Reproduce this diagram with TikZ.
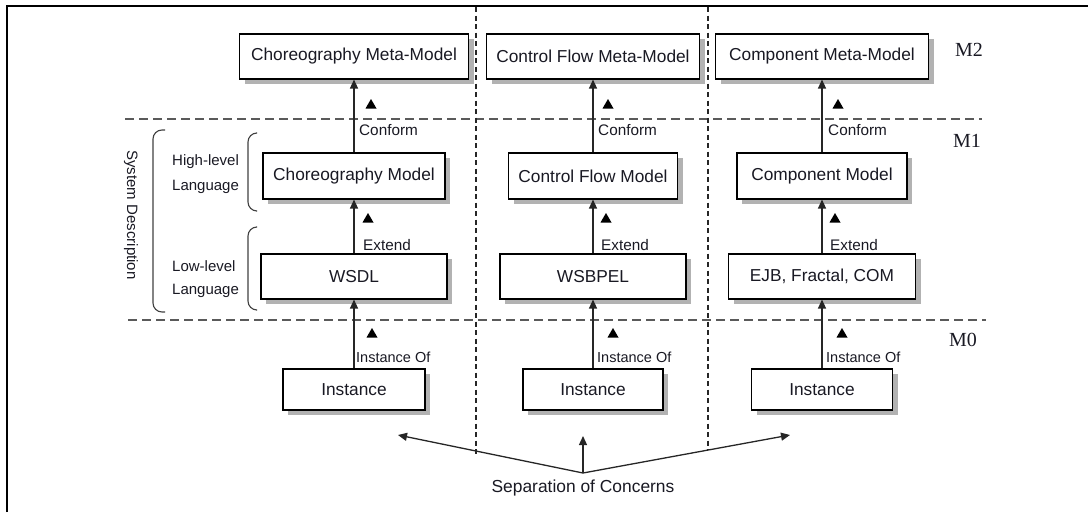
\documentclass[tikz,border=0pt]{standalone}
\usepackage{fontspec}
\setmainfont{Liberation Sans}
\newfontfamily\serifM{Liberation Serif}
\usetikzlibrary{arrows.meta,shadows}
\definecolor{txt}{RGB}{25,25,35}
\definecolor{shd}{RGB}{178,178,178}
\definecolor{dashgray}{RGB}{90,90,90}
\tikzset{
  box/.style={draw=black, line width=1.1pt, fill=white, text=txt, inner sep=0pt,
    minimum height=45pt, font=\fontsize{17.3}{20}\selectfont,
    drop shadow={shadow xshift=5pt, shadow yshift=-5pt, fill=shd, opacity=1}},
  conn/.style={draw=black!85, line width=1.3pt, -{Triangle[length=9pt,width=8pt]}},
  lbl/.style={anchor=west, text=txt, inner sep=0pt, font=\fontsize{15.3}{18}\selectfont},
  lblsmall/.style={anchor=west, text=txt, inner sep=0pt, font=\fontsize{14.5}{17}\selectfont},
  side/.style={anchor=west, text=txt, inner sep=0pt, font=\fontsize{15}{18}\selectfont},
  mlbl/.style={text=txt, inner sep=0pt, font=\serifM\fontsize{20}{22}\selectfont},
  layer/.style={draw=dashgray, line width=1.5pt, dash pattern=on 9pt off 5pt},
  column/.style={draw=black!85, line width=1.3pt, dash pattern=on 5pt off 3.5pt},
  brace/.style={draw=black!75, line width=1.1pt, rounded corners=9pt},
  tri/.style={fill=black}
}
\newcommand{\tmark}[2]{\fill[tri] (#1-5.5,#2+4.5) -- (#1+5.5,#2+4.5) -- (#1,#2-5) -- cycle;}
\begin{document}
\begin{tikzpicture}[x=1pt,y=-1pt]
\useasboundingbox (0,0) rectangle (1088,512);
% frame
\draw[line width=2.5pt] (7,512) -- (7,6) -- (1088,6);
% layer separators
\draw[layer] (125,119) -- (982,119);
\draw[layer] (128,320) -- (986,320);
% column separators
\draw[column] (476,7) -- (476,455);
\draw[column] (708,7) -- (708,450);

% M2 boxes
\node[box, minimum width=229pt] (cmm) at (354,56.5) {Choreography Meta-Model};
\node[box, minimum width=213pt] (fmm) at (593,56.5) {Control Flow Meta-Model};
\node[box, minimum width=213pt] (pmm) at (822,56.5) {Component Meta-Model};
% M1 high-level
\node[box, minimum width=182pt, minimum height=46pt] (cm) at (354,176) {Choreography Model};
\node[box, minimum width=169pt, minimum height=46pt] (fm) at (593,176) {Control Flow Model};
\node[box, minimum width=170pt, minimum height=46pt] (pm) at (822,176) {Component Model};
% M1 low-level
\node[box, minimum width=186pt] (wsdl) at (354,276.5) {WSDL};
\node[box, minimum width=186pt] (bpel) at (593,276.5) {WSBPEL};
\node[box, minimum width=187pt] (ejb) at (822,276.5) {EJB, Fractal, COM};
% M0
\node[box, minimum width=142pt, minimum height=41pt] (i1) at (354,389.5) {Instance};
\node[box, minimum width=140pt, minimum height=41pt] (i2) at (593,389.5) {Instance};
\node[box, minimum width=141pt, minimum height=41pt] (i3) at (822,389.5) {Instance};

% connectors
\draw[conn] (cm.north) -- (cmm.south);
\draw[conn] (fm.north) -- (fmm.south);
\draw[conn] (pm.north) -- (pmm.south);
\draw[conn] (wsdl.north) -- (cm.south);
\draw[conn] (bpel.north) -- (fm.south);
\draw[conn] (ejb.north) -- (pm.south);
\draw[conn] (i1.north) -- (wsdl.south);
\draw[conn] (i2.north) -- (bpel.south);
\draw[conn] (i3.north) -- (ejb.south);

% triangles and labels
\tmark{371}{104}
\tmark{608}{104}
\tmark{838}{104}
\node[lbl] (c1) at (359,130) {Conform};
\node[lbl] (c2) at (598,130) {Conform};
\node[lbl] (c3) at (828,130) {Conform};
\tmark{368}{218}
\tmark{606}{218}
\tmark{835}{218}
\node[lbl] (e1) at (363,245) {Extend};
\node[lbl] (e2) at (601,245) {Extend};
\node[lbl] (e3) at (830,245) {Extend};
\tmark{372}{333}
\tmark{613}{333}
\tmark{842}{333}
\node[lblsmall] (o1) at (356,357) {Instance Of};
\node[lblsmall] (o2) at (597,357) {Instance Of};
\node[lblsmall] (o3) at (826,357) {Instance Of};

% left side
\node[side] (hl1) at (172,162) {High-level};
\node[side] (hl2) at (172,187) {Language};
\node[side] (ll1) at (172,266) {Low-level};
\node[side] (ll2) at (172,291) {Language};
\draw[brace] (165,130) -- (153,130) -- (153,312) -- (165,312);
\draw[brace] (256,133) -- (248,133) -- (248,211) -- (256,211);
\draw[brace] (256,227) -- (248,227) -- (248,310) -- (256,310);
\node[side, anchor=center, rotate=-90] (sd) at (131,215) {System Description};

% level labels
\node[mlbl] (m2) at (969,50) {M2};
\node[mlbl] (m1) at (967,141) {M1};
\node[mlbl] (m0) at (963,340) {M0};

% separation of concerns
\node[text=txt, inner sep=0pt, font=\fontsize{17.4}{20}\selectfont] (soc) at (583,488) {Separation of Concerns};
\coordinate (j) at (583,473);
\coordinate (tl) at (398,435);
\coordinate (tm) at (583,436);
\coordinate (tr) at (790,435);
\draw[conn] (j) -- (tl);
\draw[conn] (j) -- (tm);
\draw[conn] (j) -- (tr);
\end{tikzpicture}
\end{document}
